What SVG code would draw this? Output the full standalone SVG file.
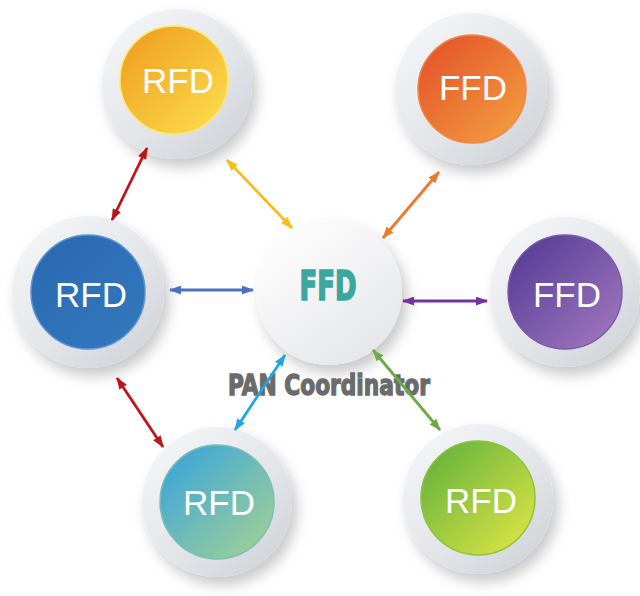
<svg xmlns="http://www.w3.org/2000/svg" width="640" height="596" viewBox="0 0 640 596">
<defs>
<style>
.disc{fill:url(#gDisc);filter:url(#sh);}
.lbl{font-family:"Liberation Sans",Arial,sans-serif;font-size:35px;fill:#ffffff;text-anchor:middle;}
.cond{font-family:"DejaVu Sans Condensed","DejaVu Sans",sans-serif;font-weight:bold;text-anchor:middle;}
.ar{stroke-width:2.8;fill:none;}
</style>
<filter id="sh" x="-30%" y="-30%" width="170%" height="170%">
<feDropShadow dx="5" dy="8" stdDeviation="7" flood-color="#000" flood-opacity="0.22"/>
</filter>
<linearGradient id="gDisc" x1="0.15" y1="0.1" x2="0.85" y2="0.9">
<stop offset="0" stop-color="#f3f4f6"/>
<stop offset="0.6" stop-color="#e2e4e8"/>
<stop offset="1" stop-color="#d2d5da"/>
</linearGradient>
<linearGradient id="gCenter" x1="0.2" y1="0.1" x2="0.8" y2="0.9">
<stop offset="0" stop-color="#fdfdfd"/>
<stop offset="1" stop-color="#e6e7ea"/>
</linearGradient>
<linearGradient id="gY" x1="0.1" y1="0.1" x2="0.9" y2="0.9">
<stop offset="0" stop-color="#efa121"/>
<stop offset="1" stop-color="#fbd94a"/>
</linearGradient>
<linearGradient id="gO" x1="0.1" y1="0.1" x2="0.9" y2="0.9">
<stop offset="0" stop-color="#e4552a"/>
<stop offset="1" stop-color="#f39a3e"/>
</linearGradient>
<linearGradient id="gB" x1="0.1" y1="0.1" x2="0.9" y2="0.9">
<stop offset="0" stop-color="#2a6ab3"/>
<stop offset="1" stop-color="#3477bc"/>
</linearGradient>
<linearGradient id="gP" x1="0.1" y1="0.1" x2="0.9" y2="0.9">
<stop offset="0" stop-color="#573e98"/>
<stop offset="1" stop-color="#9e74bb"/>
</linearGradient>
<linearGradient id="gT" x1="0.1" y1="0.1" x2="0.9" y2="0.9">
<stop offset="0" stop-color="#3ea6d8"/>
<stop offset="1" stop-color="#9ccf98"/>
</linearGradient>
<linearGradient id="gG" x1="0.1" y1="0.1" x2="0.9" y2="0.9">
<stop offset="0" stop-color="#68b43c"/>
<stop offset="1" stop-color="#d8e244"/>
</linearGradient>
<marker id="mRed" viewBox="0 0 12 9" refX="11" refY="4.5" markerWidth="12" markerHeight="9" markerUnits="userSpaceOnUse" orient="auto-start-reverse"><path d="M0,0 L12,4.5 L0,9 Z" fill="#c0141a"/></marker>
<marker id="mYel" viewBox="0 0 12 9" refX="11" refY="4.5" markerWidth="12" markerHeight="9" markerUnits="userSpaceOnUse" orient="auto-start-reverse"><path d="M0,0 L12,4.5 L0,9 Z" fill="#f6bd1c"/></marker>
<marker id="mBlu" viewBox="0 0 12 9" refX="11" refY="4.5" markerWidth="12" markerHeight="9" markerUnits="userSpaceOnUse" orient="auto-start-reverse"><path d="M0,0 L12,4.5 L0,9 Z" fill="#4a72c0"/></marker>
<marker id="mOra" viewBox="0 0 12 9" refX="11" refY="4.5" markerWidth="12" markerHeight="9" markerUnits="userSpaceOnUse" orient="auto-start-reverse"><path d="M0,0 L12,4.5 L0,9 Z" fill="#ec7a2c"/></marker>
<marker id="mPur" viewBox="0 0 12 9" refX="11" refY="4.5" markerWidth="12" markerHeight="9" markerUnits="userSpaceOnUse" orient="auto-start-reverse"><path d="M0,0 L12,4.5 L0,9 Z" fill="#7232a0"/></marker>
<marker id="mCya" viewBox="0 0 12 9" refX="11" refY="4.5" markerWidth="12" markerHeight="9" markerUnits="userSpaceOnUse" orient="auto-start-reverse"><path d="M0,0 L12,4.5 L0,9 Z" fill="#1ea7e0"/></marker>
<marker id="mGrn" viewBox="0 0 12 9" refX="11" refY="4.5" markerWidth="12" markerHeight="9" markerUnits="userSpaceOnUse" orient="auto-start-reverse"><path d="M0,0 L12,4.5 L0,9 Z" fill="#6eaa45"/></marker>
</defs>
<rect width="640" height="596" fill="#ffffff"/>

<g id="n1">
<circle class="disc" cx="177" cy="84" r="75"/>
<circle cx="174" cy="80" r="54" fill="url(#gY)" stroke="#fde86a" stroke-width="1.5"/>
<text class="lbl" x="178" y="93">RFD</text>
</g>
<g id="n2">
<circle class="disc" cx="471" cy="89" r="76"/>
<circle cx="472" cy="89" r="54" fill="url(#gO)" stroke="#f0884a" stroke-width="1.5"/>
<text class="lbl" x="473" y="100">FFD</text>
</g>
<g id="n3">
<circle class="disc" cx="88" cy="292" r="76"/>
<circle cx="88" cy="292" r="57" fill="url(#gB)" stroke="#5a94d2" stroke-width="1.5"/>
<text class="lbl" x="91" y="307">RFD</text>
</g>
<g id="n5">
<circle class="disc" cx="565" cy="292" r="75"/>
<circle cx="565" cy="292" r="57" fill="url(#gP)" stroke="#7a5aa8" stroke-width="1.5"/>
<text class="lbl" x="567" y="307">FFD</text>
</g>
<g id="n6">
<circle class="disc" cx="217" cy="502" r="75"/>
<circle cx="217" cy="502" r="57" fill="url(#gT)" stroke="#7ac0b8" stroke-width="1.5"/>
<text class="lbl" x="219" y="515">RFD</text>
</g>
<g id="n7">
<circle class="disc" cx="478" cy="499" r="75"/>
<circle cx="478" cy="498" r="57" fill="url(#gG)" stroke="#8cc43e" stroke-width="1.5"/>
<text class="lbl" x="481" y="513">RFD</text>
</g>
<g id="n4">
<circle cx="329" cy="292" r="73" fill="url(#gCenter)" filter="url(#sh)"/>
<text class="cond" x="328" y="300" font-size="40" fill="#3ba79f" stroke="#3ba79f" stroke-width="1.6" textLength="57" lengthAdjust="spacingAndGlyphs">FFD</text>
<text class="cond" x="329" y="395" font-size="29" fill="#6b6b6b" stroke="#6b6b6b" stroke-width="1.3" textLength="202" lengthAdjust="spacingAndGlyphs">PAN Coordinator</text>
</g>

<g id="connectors">
<line class="ar" x1="147" y1="148" x2="112" y2="220" stroke="#c0141a" marker-start="url(#mRed)" marker-end="url(#mRed)"/>
<line class="ar" x1="227" y1="160" x2="292" y2="228" stroke="#f6bd1c" marker-start="url(#mYel)" marker-end="url(#mYel)"/>
<line class="ar" x1="170" y1="290" x2="253" y2="290" stroke="#4a72c0" marker-start="url(#mBlu)" marker-end="url(#mBlu)"/>
<line class="ar" x1="439" y1="172" x2="383" y2="238" stroke="#ec7a2c" marker-start="url(#mOra)" marker-end="url(#mOra)"/>
<line class="ar" x1="403" y1="301" x2="487" y2="301" stroke="#7232a0" marker-start="url(#mPur)" marker-end="url(#mPur)"/>
<line class="ar" x1="285" y1="355" x2="235" y2="430" stroke="#1ea7e0" marker-start="url(#mCya)" marker-end="url(#mCya)"/>
<line class="ar" x1="117" y1="378" x2="163" y2="447" stroke="#c0141a" marker-start="url(#mRed)" marker-end="url(#mRed)"/>
<line class="ar" x1="373" y1="350" x2="440" y2="430" stroke="#6eaa45" marker-start="url(#mGrn)" marker-end="url(#mGrn)"/>
</g>
</svg>
